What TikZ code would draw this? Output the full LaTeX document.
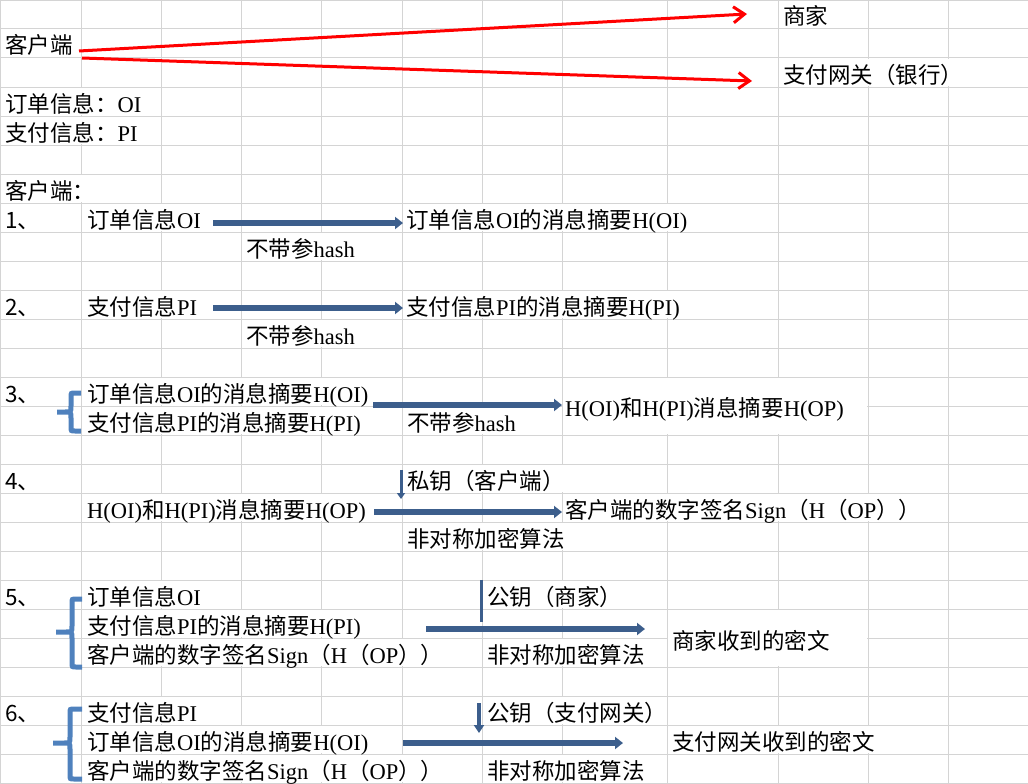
\documentclass[tikz,border=0pt]{standalone}
\usepackage{fontspec}
\setmainfont{Noto Sans CJK SC}
\newfontfamily\latn{Liberation Serif}
\newcommand\la[1]{{\latn #1}}
\usetikzlibrary{arrows.meta}
\definecolor{gridgray}{RGB}{212,212,212}
\definecolor{arrowblue}{RGB}{60,94,140}
\definecolor{braceblue}{RGB}{79,129,189}

\begin{document}
\begin{tikzpicture}[x=1pt,y=-1pt,font=\fontsize{22.5}{27}\selectfont,
			gridline/.style={gridgray,line width=1pt},
			cell/.style={anchor=base west,inner sep=0pt,fill=white,text height=24pt,text depth=3pt},
			merged/.style={anchor=base west,inner sep=0pt},
			send/.style={red,line width=3pt,-{Straight Barb[length=11pt,width=16pt]}},
			block arrow/.style={arrowblue,line width=5.5pt,-{Triangle[length=8pt,width=12pt]}},
			key arrow/.style={arrowblue,line width=3pt,-{Triangle[length=6pt,width=8pt]}},
			brace/.style={braceblue,line width=5pt}]

		\useasboundingbox (0,0) rectangle (1028,784);

		% sheet grid
		\foreach \x in {0.5,81,161,241,321,402,482,562,667,778,868,948}
			\draw [gridline] (\x,0) -- (\x,784);
		\draw [gridline] (0,0.5) -- (1028,0.5);
		\foreach \k in {1,...,27}
			\draw [gridline] (0,29*\k) -- (1028,29*\k);

		% merged cells
		\fill [white] (563,378) rectangle (867,434);
		\fill [white] (668,610) rectangle (867,666);

		% parties
		\node [cell] (sj) at (783,25) {商家};
		\node [cell] (khd) at (5,54) {客户端};
		\node [cell] (zfwg) at (783,83) {支付网关（银行）};
		\node [cell] (oidef) at (5,112) {订单信息：\la{OI}};
		\node [cell] (pidef) at (5,141) {支付信息：\la{PI}};
		\node [cell] (khdt) at (5,199) {客户端：};

		% step 1
		\node [cell] (n1) at (5,228) {1、};
		\node [cell] (oi1) at (87,228) {订单信息\la{OI}};
		\node [cell] (hoi1) at (406,228) {订单信息\la{OI}的消息摘要\la{H(OI)}};
		\node [cell] (hash1) at (246,257) {不带参\la{hash}};

		% step 2
		\node [cell] (n2) at (5,315) {2、};
		\node [cell] (pi2) at (87,315) {支付信息\la{PI}};
		\node [cell] (hpi2) at (406,315) {支付信息\la{PI}的消息摘要\la{H(PI)}};
		\node [cell] (hash2) at (246,344) {不带参\la{hash}};

		% step 3
		\node [cell] (n3) at (5,402) {3、};
		\node [cell] (hoi3) at (87,402) {订单信息\la{OI}的消息摘要\la{H(OI)}};
		\node [cell] (hpi3) at (87,431) {支付信息\la{PI}的消息摘要\la{H(PI)}};
		\node [cell] (hash3) at (407,431) {不带参\la{hash}};
		\node [merged] (hop3) at (565,416) {\la{H(OI)}和\la{H(PI)}消息摘要\la{H(OP)}};

		% step 4
		\node [cell] (n4) at (5,489) {4、};
		\node [cell] (sk4) at (407,489) {私钥（客户端）};
		\node [cell] (hop4) at (87,518) {\la{H(OI)}和\la{H(PI)}消息摘要\la{H(OP)}};
		\node [cell] (sign4) at (565,518) {客户端的数字签名\la{Sign}（\la{H}（\la{OP}））};
		\node [cell] (alg4) at (407,547) {非对称加密算法};

		% step 5
		\node [cell] (n5) at (5,605) {5、};
		\node [cell] (oi5) at (87,605) {订单信息\la{OI}};
		\node [cell] (pk5) at (487,605) {公钥（商家）};
		\node [cell] (hpi5) at (87,634) {支付信息\la{PI}的消息摘要\la{H(PI)}};
		\node [cell] (sign5) at (87,663) {客户端的数字签名\la{Sign}（\la{H}（\la{OP}））};
		\node [cell] (alg5) at (487,663) {非对称加密算法};
		\node [merged] (mw5) at (672,649) {商家收到的密文};

		% step 6
		\node [cell] (n6) at (5,721) {6、};
		\node [cell] (pi6) at (87,721) {支付信息\la{PI}};
		\node [cell] (pk6) at (487,721) {公钥（支付网关）};
		\node [cell] (hoi6) at (87,750) {订单信息\la{OI}的消息摘要\la{H(OI)}};
		\node [cell] (mw6) at (672,750) {支付网关收到的密文};
		\node [cell] (sign6) at (87,779) {客户端的数字签名\la{Sign}（\la{H}（\la{OP}））};
		\node [cell] (alg6) at (487,779) {非对称加密算法};

		% free ends
		\coordinate (s1) at (79,51);
		\coordinate (s2) at (82,58);
		\coordinate (t1) at (747,14);
		\coordinate (t2) at (752,81);
		\coordinate (b1) at (213,223);
		\coordinate (b2) at (213,308);
		\coordinate (b3) at (373,405);
		\coordinate (b4) at (374,512);
		\coordinate (b5) at (426,629);
		\coordinate (e5) at (645,629);
		\coordinate (b6) at (403,743);
		\coordinate (e6) at (623,743);
		\coordinate (k4) at (401,470);
		\coordinate (k4e) at (401,499);
		\coordinate (k5) at (481,580);
		\coordinate (k5e) at (481,622);
		\coordinate (k6) at (479,703);
		\coordinate (k6e) at (479,733);

		\draw [send] (s1) -- (t1);
		\draw [send] (s2) -- (t2);

		\draw [block arrow, shorten >=3pt] (b1) -- (b1 -| hoi1.west);
		\draw [block arrow, shorten >=3pt] (b2) -- (b2 -| hpi2.west);
		\draw [block arrow, shorten >=3pt] (b3) -- (b3 -| hop3.west);
		\draw [block arrow, shorten >=3pt] (b4) -- (b4 -| sign4.west);
		\draw [block arrow] (b5) -- (e5);
		\draw [block arrow] (b6) -- (e6);

		\draw [key arrow] (k4) -- (k4e);
		\draw [arrowblue, line width=3pt] (k5) -- (k5e);
		\draw [key arrow, line width=4pt, -{Triangle[length=8pt,width=10pt]}] (k6) -- (k6e);

		% braces
		\draw [brace] (81,393) -- (75,393) .. controls (71,393) .. (71,397) -- (71,406)
			.. controls (71,412) .. (65,412) -- (57,412) -- (65,412)
			.. controls (71,412) .. (71,418) -- (71,427) .. controls (71,431) .. (75,431) -- (81,431);
		\draw [brace] (82,599) -- (76,599) .. controls (72,599) .. (72,603) -- (72,626)
			.. controls (72,632) .. (66,632) -- (56,632) -- (66,632)
			.. controls (72,632) .. (72,638) -- (72,663) .. controls (72,667) .. (76,667) -- (82,667);
		\draw [brace] (82,709) -- (74,709) .. controls (70,709) .. (70,713) -- (70,737)
			.. controls (70,743) .. (64,743) -- (53,743) -- (64,743)
			.. controls (70,743) .. (70,749) -- (70,775) .. controls (70,779) .. (74,779) -- (82,779);

		\end{tikzpicture}
\end{document}
